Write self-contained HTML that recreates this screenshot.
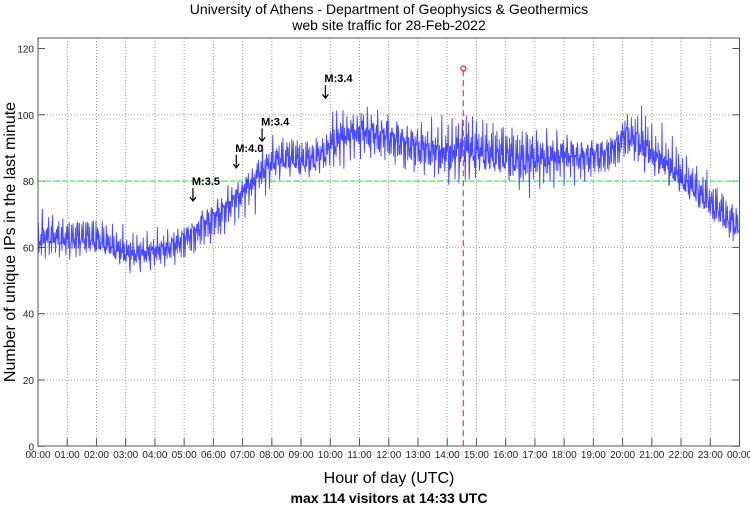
<!DOCTYPE html>
<html><head><meta charset="utf-8"><style>
body{margin:0;background:#fff;width:750px;height:511px;overflow:hidden}
svg{font-family:"Liberation Sans",sans-serif}
</style></head><body>
<svg width="750" height="511">
<text x="389" y="14" font-size="14" text-anchor="middle">University of Athens - Department of Geophysics &amp; Geothermics</text>
<text x="389" y="30" font-size="14" text-anchor="middle">web site traffic for 28-Feb-2022</text>
<g id="grid"></g>
<g id="series"></g>
<g id="marks"></g>
<rect x="38" y="38" width="701.5" height="408" fill="none" stroke="#555" stroke-width="1"/>
<text transform="translate(15,242) rotate(-90)" font-size="16" text-anchor="middle">Number of unique IPs in the last minute</text>
<text x="389" y="483" font-size="16" text-anchor="middle">Hour of day (UTC)</text>
<text x="389" y="503" font-size="14" font-weight="bold" text-anchor="middle">max 114 visitors at 14:33 UTC</text>
</svg>
<script>
const yTicks=[0,20,40,60,80,100,120];
const xTickLabels=["00:00","01:00","02:00","03:00","04:00","05:00","06:00","07:00","08:00","09:00","10:00","11:00","12:00","13:00","14:00","15:00","16:00","17:00","18:00","19:00","20:00","21:00","22:00","23:00","00:00"];
const halfHourMean=[62,63,62,63,62,60,58,58,59,60,63,66,69,73,77,82,86,87,86,87,91,94,95,94,93,91,90,89,88,90,89,88,88,86,87,87,88,87,88,88,94,92,88,85,80,77,73,69,65];
const halfHourLow=[55,55,54,55,55,52,50,51,52,53,55,58,60,65,68,72,77,78,77,78,80,84,85,84,83,81,80,78,75,75,77,76,74,72,75,76,78,78,79,80,84,80,78,75,72,68,64,60,58];
const halfHourHigh=[75,72,72,72,70,68,66,66,67,68,70,76,78,82,85,92,95,96,95,95,104,103,106,105,104,102,102,102,102,104,101,100,100,100,98,98,98,96,96,97,104,106,98,95,90,86,82,78,72];
const threshold=80;
const maxVal=114, maxMinute=14*60+33;
const quakes=[{m:5*60+18,label:"M:3.5",y:74},{m:6*60+47,label:"M:4.0",y:84},{m:7*60+40,label:"M:3.4",y:92},{m:9*60+50,label:"M:3.4",y:105}];
const X0=38,X1=739.5,Y0=446.3,PX=3.315;
const xs=m=>X0+(X1-X0)*m/1440, ys=v=>Y0-v*PX;
const NS="http://www.w3.org/2000/svg";
function mk(t,a,p){const e=document.createElementNS(NS,t);for(const k in a)e.setAttribute(k,a[k]);p.appendChild(e);return e;}
const grid=document.getElementById('grid');
yTicks.forEach(v=>{
 if(v>0&&v<120){const l=mk('line',{x1:X0,x2:X1,y1:ys(v),y2:ys(v),stroke:'#999','stroke-dasharray':'1,2'},grid);
 }
 const t=mk('line',{x1:X0,x2:X0+7,y1:ys(v),y2:ys(v),stroke:'#555'},grid);
 
 const t2=mk('line',{x1:X1-7,x2:X1,y1:ys(v),y2:ys(v),stroke:'#555'},grid);
 
 const tx=mk('text',{x:X0-4,y:ys(v)+4,'font-size':10,'text-anchor':'end',fill:'#222'},grid);tx.textContent=v;
 
});
xTickLabels.forEach((s,i)=>{
 const x=xs(i*60);
 if(i>0&&i<24){const l=mk('line',{x1:x,x2:x,y1:38,y2:Y0,stroke:'#999','stroke-dasharray':'1,2'},grid);
 }
 const t=mk('line',{x1:x,x2:x,y1:Y0-8,y2:Y0,stroke:'#555'},grid);
 
 const tx=mk('text',{x:x,y:458,'font-size':10,'text-anchor':'middle',fill:'#222'},grid);tx.textContent=s;
 
});
const ser=document.getElementById('series');
const th=mk('line',{x1:X0,x2:X1,y1:ys(threshold),y2:ys(threshold),stroke:'#66ee66','stroke-width':1.5,'stroke-dasharray':'5,3'},ser);

let pts=[];
for(let m=0;m<1440;m++){
 const b=Math.floor(m/30),f=(m%30)/30;
 const c=halfHourMean[b]*(1-f)+halfHourMean[b+1]*f;
 const lo=halfHourLow[Math.min(b,47)],hi=halfHourHigh[Math.min(b,47)];
 let w=Math.sin(m*2.39)*0.45+Math.sin(m*7.77+1)*0.3+Math.sin(m*0.613+2)*0.25;
 w*=0.6+0.4*Math.abs(Math.sin(m*0.173));
 const v=w>=0?c+w*(hi-c):c+w*(c-lo);
 pts.push(xs(m).toFixed(1)+','+ys(v).toFixed(1));
}
const pl=mk('polyline',{points:pts.join(' '),fill:'none',stroke:'#1a1aff','stroke-width':0.9,'stroke-opacity':0.8},ser);

const mg=document.getElementById('marks');
const rl=mk('line',{x1:xs(maxMinute),x2:xs(maxMinute),y1:Y0,y2:ys(maxVal),stroke:'#ff3333','stroke-width':1.2,'stroke-dasharray':'6,4'},mg);

const rc=mk('circle',{cx:xs(maxMinute),cy:ys(maxVal),r:2.5,fill:'none',stroke:'#ff2222','stroke-width':1.2},mg);

quakes.forEach(q=>{
 const x=xs(q.m),y=ys(q.y);
 const a=mk('path',{d:`M${x},${y-13} L${x},${y} M${x-3},${y-4} L${x},${y} L${x+3},${y-4}`,stroke:'#000',fill:'none','stroke-width':1.2},mg);
 
 const t=mk('text',{x:x-1,y:y-16,'font-size':11,'font-weight':'bold'},mg);t.textContent=q.label;
 
});
</script>
</body></html>
